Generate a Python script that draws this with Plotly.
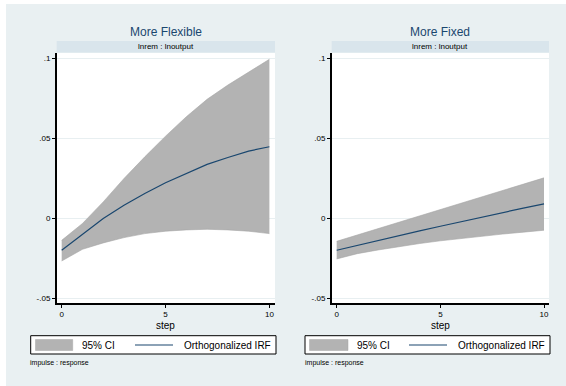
import plotly.graph_objects as go

W, H = 566, 386

steps = [0, 1, 2, 3, 4, 5, 6, 7, 8, 9, 10]

flex_irf = [-0.0198, -0.0100, 0.0000, 0.0083, 0.0156, 0.0223, 0.0281, 0.0338, 0.0381, 0.0421, 0.0448]
flex_upper = [-0.0136, -0.0031, 0.0104, 0.0250, 0.0385, 0.0514, 0.0635, 0.0744, 0.0833, 0.0916, 0.0994]
flex_lower = [-0.0265, -0.0192, -0.0152, -0.0119, -0.0094, -0.0079, -0.0071, -0.0067, -0.0071, -0.0079, -0.0094]

fixed_irf = [-0.0198, -0.0167, -0.0137, -0.0107, -0.0077, -0.0048, -0.0019, 0.0010, 0.0038, 0.0065, 0.0091]
fixed_upper = [-0.0142, -0.0102, -0.0062, -0.0022, 0.0018, 0.0058, 0.0098, 0.0137, 0.0176, 0.0215, 0.0254]
fixed_lower = [-0.0252, -0.0219, -0.0196, -0.0175, -0.0156, -0.0139, -0.0124, -0.0110, -0.0097, -0.0085, -0.0073]

panel_titles = ["More Flexible", "More Fixed"]
strip_label = "lnrem : lnoutput"
x_title = "step"
legend_labels = ["95% CI", "Orthogonalized IRF"]
note_text = "impulse : response"

y_tickvals = [-0.05, 0, 0.05, 0.1]
y_ticktext = ["-.05", "0", ".05", ".1"]
x_tickvals = [0, 5, 10]
x_ticktext = ["0", "5", "10"]

FONT = "Liberation Sans, Arial, sans-serif"
PANEL_BG = "#e9f0f2"
STRIP_BG = "#d9e5ec"
CI_FILL = "#b3b3b3"
CI_LINE = "#a6a6a6"
IRF_COLOR = "#1a476f"
GRID = "#e8eff1"

def px(x):
    return x / W

def py(y):
    return 1 - y / H

fig = go.Figure()

series = [
    (flex_irf, flex_upper, flex_lower, "x", "y"),
    (fixed_irf, fixed_upper, fixed_lower, "x2", "y2"),
]
for irf, up, lo, xa, ya in series:
    fig.add_trace(go.Scatter(x=steps, y=lo, mode="lines", line=dict(color=CI_LINE, width=0.6),
                             xaxis=xa, yaxis=ya, showlegend=False, hoverinfo="skip"))
    fig.add_trace(go.Scatter(x=steps, y=up, mode="lines", line=dict(color=CI_LINE, width=0.6),
                             fill="tonexty", fillcolor=CI_FILL,
                             xaxis=xa, yaxis=ya, showlegend=False, hoverinfo="skip"))
    fig.add_trace(go.Scatter(x=steps, y=irf, mode="lines", line=dict(color=IRF_COLOR, width=1.2),
                             xaxis=xa, yaxis=ya, showlegend=False))

ydom = [py(303), py(53)]
panels = [
    dict(x0=56.7, x1=275.0, xr=[-0.24, 10.27]),
    dict(x0=331.7, x1=549.0, xr=[-0.24, 10.24]),
]

axis_common = dict(showline=True, linecolor="black", linewidth=1.5, ticks="outside",
                   ticklen=3, tickcolor="black", tickwidth=1, zeroline=False,
                   tickfont=dict(family=FONT, size=8, color="black"))

layout = dict(
    width=W, height=H, margin=dict(l=0, r=0, t=0, b=0),
    paper_bgcolor=PANEL_BG, plot_bgcolor="white", showlegend=False,
    font=dict(family=FONT, color="black"),
)
for i, p in enumerate(panels):
    sfx = "" if i == 0 else "2"
    layout["xaxis" + sfx] = dict(domain=[px(p["x0"]), px(p["x1"])], range=p["xr"],
                                 anchor="y" + sfx, tickvals=x_tickvals, ticktext=x_ticktext,
                                 showgrid=False, **axis_common)
    layout["yaxis" + sfx] = dict(domain=ydom, range=[-0.0527, 0.1033], anchor="x" + sfx,
                                 tickvals=y_tickvals, ticktext=y_ticktext,
                                 showgrid=True, gridcolor=GRID, gridwidth=1, **axis_common)
fig.update_layout(**layout)

shapes = []
annotations = []
# white outer margins
shapes.append(dict(type="rect", xref="paper", yref="paper", x0=0, x1=px(6), y0=0, y1=1,
                   fillcolor="white", line=dict(width=0), layer="above"))
shapes.append(dict(type="rect", xref="paper", yref="paper", x0=0, x1=1, y0=py(4), y1=1,
                   fillcolor="white", line=dict(width=0), layer="above"))

legend_geo = [
    dict(box=(30.7, 276), sw=(35.5, 72.7), ln=(135, 173), t1=98, t2=227),
    dict(box=(305, 550), sw=(309.5, 348), ln=(409, 447), t1=373, t2=501),
]

for i, p in enumerate(panels):
    cx = (p["x0"] + p["x1"]) / 2
    # strip
    shapes.append(dict(type="rect", xref="paper", yref="paper", x0=px(p["x0"]), x1=px(p["x1"]),
                       y0=py(52.5), y1=py(41), fillcolor=STRIP_BG, line=dict(width=0), layer="above"))
    annotations.append(dict(text=strip_label, xref="paper", yref="paper", x=px(cx), y=py(46.5),
                            showarrow=False, font=dict(family=FONT, size=8, color="black"),
                            xanchor="center", yanchor="middle"))
    annotations.append(dict(text=panel_titles[i], xref="paper", yref="paper", x=px(cx), y=py(32.5),
                            showarrow=False, font=dict(family=FONT, size=12, color=IRF_COLOR),
                            xanchor="center", yanchor="middle"))
    annotations.append(dict(text=x_title, xref="paper", yref="paper", x=px(cx), y=py(325),
                            showarrow=False, font=dict(family=FONT, size=10, color="black"),
                            xanchor="center", yanchor="middle"))
    g = legend_geo[i]
    shapes.append(dict(type="rect", xref="paper", yref="paper", x0=px(g["box"][0]), x1=px(g["box"][1]),
                       y0=py(354), y1=py(335.7), fillcolor="white",
                       line=dict(color="black", width=1), layer="above"))
    shapes.append(dict(type="rect", xref="paper", yref="paper", x0=px(g["sw"][0]), x1=px(g["sw"][1]),
                       y0=py(350.5), y1=py(339.5), fillcolor=CI_FILL,
                       line=dict(color=CI_LINE, width=0.5), layer="above"))
    shapes.append(dict(type="line", xref="paper", yref="paper", x0=px(g["ln"][0]), x1=px(g["ln"][1]),
                       y0=py(345), y1=py(345), line=dict(color=IRF_COLOR, width=1.2), layer="above"))
    annotations.append(dict(text=legend_labels[0], xref="paper", yref="paper", x=px(g["t1"]), y=py(345),
                            showarrow=False, font=dict(family=FONT, size=10, color="black"),
                            xanchor="center", yanchor="middle"))
    annotations.append(dict(text=legend_labels[1], xref="paper", yref="paper", x=px(g["t2"]), y=py(345),
                            showarrow=False, font=dict(family=FONT, size=10, color="black"),
                            xanchor="center", yanchor="middle"))
    annotations.append(dict(text=note_text, xref="paper", yref="paper",
                            x=px(28 if i == 0 else 303), y=py(363),
                            showarrow=False, font=dict(family=FONT, size=7, color="black"),
                            xanchor="left", yanchor="middle"))

fig.update_layout(shapes=shapes, annotations=annotations)
fig.write_html("out.html", config={"displayModeBar": False},
               post_script="document.body.style.margin='0';document.body.style.padding='0';"
                           "document.body.style.overflow='hidden';")
